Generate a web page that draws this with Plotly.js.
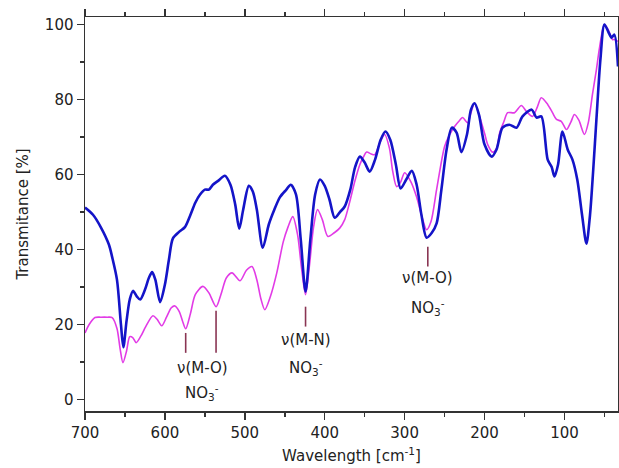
<!DOCTYPE html>
<html>
<head>
<meta charset="utf-8">
<script src="https://cdn.plot.ly/plotly-3.0.1.min.js"></script>
<style>html,body{margin:0;padding:0;background:#fff;}#chart{width:619px;height:468px;}</style>
</head>
<body>
<div id="chart"></div>
<script>
// Blue spectrum (wavenumber, transmittance %)
var blueX = [700, 690, 680, 670, 666, 660, 655, 652, 648, 644, 640, 635, 631, 625, 620, 616, 612, 606, 600, 595, 590, 582, 575, 568, 562, 556, 550, 545, 540, 533, 525, 518, 512, 507, 502, 495, 490, 485, 477.5, 470, 463, 456, 448, 442.5, 436, 430, 424, 418, 412, 406, 400, 394, 387.5, 381, 375, 368, 362, 356, 350, 343.75, 337, 330, 324, 318, 311, 305, 298, 291, 285, 279, 272.5, 266, 260, 254, 247.5, 241, 235, 229, 222, 217, 212.5, 207, 200, 191, 185, 177.5, 169, 160, 152.5, 141, 135, 129, 121, 116, 112.5, 108, 102.5, 96, 90, 84, 78, 72.5, 68, 64, 60, 55, 50, 45, 41, 37.5, 33];
var blueY = [51.2, 49.3, 45.9, 41.3, 38, 32, 20, 14, 21, 26.7, 29, 27.5, 26.7, 29.3, 32.5, 34, 32, 26, 30.7, 37.3, 43, 44.8, 46, 49.3, 52.5, 54.7, 56, 56, 57.3, 58.4, 59.7, 57.3, 52, 45.6, 50.7, 57, 55.5, 50.7, 40.5, 46.7, 50.7, 54, 56, 57.3, 54.7, 42.7, 28.8, 42.7, 54.7, 58.7, 57, 53.3, 48.5, 50, 51.5, 56, 62, 64.8, 63.2, 60.8, 64, 69.3, 71.5, 69.3, 62.7, 56.3, 58.7, 61, 57.3, 49.3, 43.2, 44.5, 47, 56, 66.7, 72.5, 71.2, 66, 70.7, 77.3, 79, 76, 68, 64.8, 66.7, 72.5, 73.3, 72.5, 75.5, 77.3, 75.2, 75.5, 64, 62, 59.5, 62.7, 71.5, 66.7, 64, 58.7, 49.3, 41.6, 49.3, 61.3, 74.7, 90.7, 100, 98, 96.5, 97.3, 88.8];

// Magenta spectrum
var magX = [700, 695, 687.5, 680, 672, 666, 660, 656, 652.5, 648, 644, 640, 636, 630, 624, 615, 610, 604, 598, 592, 587.5, 582, 578, 574, 568, 562, 552.5, 545, 536, 530, 523, 516, 506, 498, 491, 485, 480, 475, 468, 460, 452, 446, 440, 434, 429, 424, 419, 414, 409, 403, 396, 388, 381, 375, 369, 362, 356, 352, 347.5, 342, 337.5, 331, 325, 319, 315, 310, 305, 300, 292, 285, 278, 272.5, 267, 260, 250, 244, 237.5, 231, 227.5, 221, 217, 212.5, 207, 200, 196, 190, 185, 181, 176, 171, 162.5, 154, 147.5, 140, 134, 129, 121, 115, 110, 104, 97.5, 92, 87.5, 82, 75, 70, 65, 60, 56, 50, 45, 40, 37.5, 33];
var magY = [17.8, 20, 21.9, 22, 22, 21.9, 19, 13.5, 9.9, 13, 16.8, 16.5, 15.2, 17, 19.5, 22.4, 21.5, 19.7, 22, 24.5, 25, 23.5, 21, 18.9, 23, 28, 30.2, 28.5, 24.8, 28, 32.5, 33.8, 31.7, 34.5, 35.5, 32, 27, 24, 27.5, 33.8, 42, 46, 48.8, 44, 35, 28, 36, 46, 50.7, 48, 43.5, 44.5, 45.8, 48, 52.5, 58.5, 62.7, 64.5, 66, 65.5, 65.3, 68.5, 70.7, 67, 61, 56.8, 58, 60.5, 58, 54, 48.5, 45.3, 47.5, 56, 67.5, 70.5, 72.8, 74.5, 75.2, 73.8, 76.5, 79, 76, 71, 68, 66, 67, 71.2, 74, 76.5, 76.5, 78.4, 76.8, 75.5, 78, 80.5, 78.7, 76.5, 74.7, 74.2, 72, 74, 76, 74.5, 70.7, 74, 81.3, 88, 94, 100, 98.5, 96, 96, 95.5];

// Band assignments
var markX = [574, 536, 424, 271];
var markTop = [17.8, 23.7, 24.8, 40.8];
var markBottom = [12.5, 12.5, 19.5, 35.5];
var labelX = [553, 424, 271];
var labelY = [8.5, 16, 32.5];
var labelText = ["\u03bd(M-O)", "\u03bd(M-N)", "\u03bd(M-O)"];
var ionY = [1.9, 8.5, 24.5];
var ionText = "NO<sub>3</sub><sup>-</sup>";

var font = "DejaVu Sans, Verdana, sans-serif";

var traces = [
  {x: magX, y: magY, type: "scatter", mode: "lines", line: {color: "#e23be6", width: 1.6, shape: "spline", smoothing: 0.8}, hoverinfo: "skip"},
  {x: blueX, y: blueY, type: "scatter", mode: "lines", line: {color: "#1414c8", width: 2.6, shape: "spline", smoothing: 0.8}, hoverinfo: "skip"}
];

var shapes = markX.map(function(x, i) {
  return {type: "line", xref: "x", yref: "y", x0: x, x1: x, y0: markBottom[i], y1: markTop[i], line: {color: "#8a3553", width: 1.6}};
});

var annotations = [];
labelX.forEach(function(x, i) {
  annotations.push({x: x, y: labelY[i], xref: "x", yref: "y", text: labelText[i], showarrow: false, font: {family: font, size: 15, color: "#222"}});
  annotations.push({x: x, y: ionY[i], xref: "x", yref: "y", text: ionText, showarrow: false, font: {family: font, size: 15, color: "#222"}});
});

var layout = {
  width: 619, height: 468,
  margin: {l: 85, r: 1, t: 17, b: 57},
  paper_bgcolor: "#fff", plot_bgcolor: "#fff",
  showlegend: false,
  font: {family: font, size: 15, color: "#222"},
  xaxis: {
    range: [700, 33], autorange: false,
    tickvals: [700, 600, 500, 400, 300, 200, 100],
    ticks: "outside", ticklen: 7, tickwidth: 1.5, tickcolor: "#333",
    minor: {dtick: 50, ticks: "outside", ticklen: 4, tickwidth: 1.5, tickcolor: "#333"},
    showline: true, linecolor: "#333", linewidth: 1.5, mirror: "allticks",
    showgrid: false, zeroline: false,
    tickfont: {family: font, size: 15, color: "#222"},
    title: {text: "Wavelength [cm<sup>-1</sup>]", font: {family: font, size: 15, color: "#222"}, standoff: 10}
  },
  yaxis: {
    range: [-3, 102], autorange: false,
    tickvals: [0, 20, 40, 60, 80, 100],
    ticks: "outside", ticklen: 7, tickwidth: 1.5, tickcolor: "#333",
    minor: {dtick: 10, ticks: "outside", ticklen: 4, tickwidth: 1.5, tickcolor: "#333"},
    showline: true, linecolor: "#333", linewidth: 1.5, mirror: "allticks",
    showgrid: false, zeroline: false,
    tickfont: {family: font, size: 15, color: "#222"},
    title: {text: "Transmitance [%]", font: {family: font, size: 15, color: "#222"}, standoff: 12}
  },
  shapes: shapes,
  annotations: annotations
};

Plotly.newPlot("chart", traces, layout, {staticPlot: true, displayModeBar: false});
</script>
</body>
</html>
